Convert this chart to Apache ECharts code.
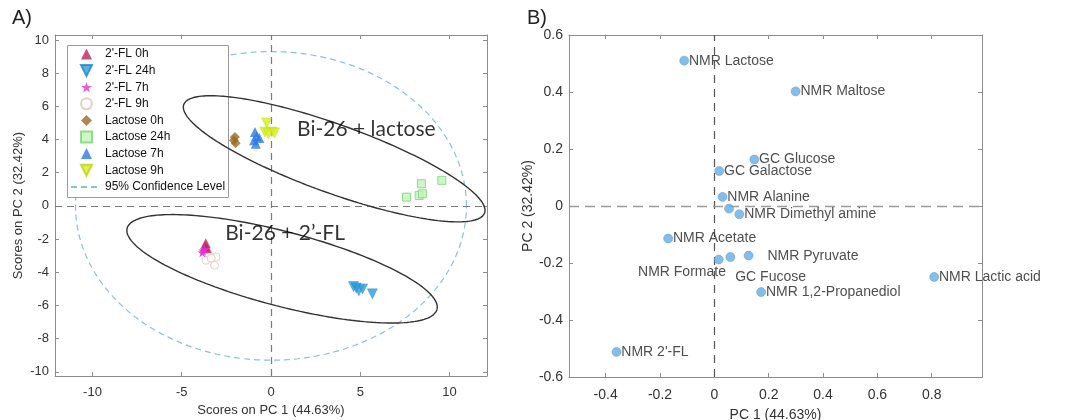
<!DOCTYPE html>
<html>
<head>
<meta charset="utf-8">
<script src="https://cdn.jsdelivr.net/npm/echarts@6/dist/echarts.min.js"></script>
<style>
  html, body { margin: 0; padding: 0; background: #fff; }
  #chart { width: 1067px; height: 420px; }
</style>
</head>
<body>
<div id="chart"></div>
<script>
// ---------- Panel A: PCA scores per sample group ----------
const fl0h   = [[-3.65, -2.25], [-3.70, -2.45], [-3.60, -2.55]];
const fl24h  = [[4.62, -4.86], [4.78, -4.95], [4.92, -5.12], [5.13, -5.00], [5.68, -5.30]];
const fl7h   = [[-3.80, -2.70], [-3.72, -2.60], [-3.85, -2.80]];
const fl9h   = [[-3.51, -2.88], [-3.08, -3.08], [-3.64, -3.28], [-3.16, -3.58], [-3.35, -3.15]];
const lac0h  = [[-2.02, 4.15], [-2.08, 3.95], [-1.98, 3.78]];
const lac24h = [[7.59, 0.53], [8.43, 1.34], [8.30, 0.63], [8.48, 0.73], [9.57, 1.54]];
const lac7h  = [[-0.90, 4.45], [-0.80, 4.20], [-0.95, 3.95], [-0.85, 3.75], [-0.65, 4.10]];
const lac9h  = [[-0.25, 5.00], [-0.35, 4.45], [0.05, 4.45], [-0.15, 4.35], [0.20, 4.40]];

const sampleGroups = ['2\'-FL 0h', '2\'-FL 24h', '2\'-FL 7h', '2\'-FL 9h', 'Lactose 0h', 'Lactose 24h', 'Lactose 7h', 'Lactose 9h'];
const confidenceName = '95% Confidence Level';

// Group ellipses and the 95% confidence ellipse (centre, semi-axes, rotation in degrees)
const lactoseEllipse = { cx: 3.54, cy: 2.84, a: 9.04, b: 2.04, angle: -21.35 };
const flEllipse      = { cx: 0.62, cy: -3.79, a: 9.02, b: 2.23, angle: -15.87 };
const confEllipse    = { cx: 0, cy: 0, a: 10.95, b: 9.3, angle: 0 };

const groupLabels   = ['Bi-26 + lactose', 'Bi-26 + 2\u2019-FL'];
const groupLabelAt  = [[5.34, 4.6], [0.79, -1.67]];

const scoreXTicks = [-10, -5, 0, 5, 10];
const scoreYTicks = [-10, -8, -6, -4, -2, 0, 2, 4, 6, 8, 10];

// ---------- Panel B: loadings ----------
const loadingNames = ['NMR Lactose', 'NMR Maltose', 'GC Glucose', 'GC Galactose', 'NMR Alanine', '',
  'NMR Dimethyl amine', 'NMR Acetate', 'NMR Formate', 'GC Fucose', 'NMR Pyruvate',
  'NMR Lactic acid', 'NMR 1,2-Propanediol', "NMR 2'-FL"];
const loadingPC1 = [-0.111, 0.299, 0.147, 0.018, 0.030, 0.054, 0.092, -0.170, 0.016, 0.059, 0.126, 0.809, 0.172, -0.360];
const loadingPC2 = [0.510, 0.402, 0.163, 0.123, 0.032, -0.009, -0.029, -0.114, -0.188, -0.179, -0.174, -0.249, -0.302, -0.512];
const loadingXTicks = [-0.4, -0.2, 0, 0.2, 0.4, 0.6, 0.8];
const loadingYTicks = [-0.6, -0.4, -0.2, 0, 0.2, 0.4, 0.6];

// label placement tweaks for crowded loadings
const labelTweaks = {
  'NMR Formate': { position: 'left', distance: 0, offset: [12, 13] },
  'GC Fucose': { position: 'right', distance: 0, offset: [0, 20] },
  'NMR Pyruvate': { position: 'right', distance: 14, offset: [0, 1] }
};

function ellipsePoints(e, n) {
  const th = e.angle * Math.PI / 180, c = Math.cos(th), s = Math.sin(th);
  const pts = [];
  for (let i = 0; i <= n; i++) {
    const t = 2 * Math.PI * i / n;
    const u = e.a * Math.cos(t), v = e.b * Math.sin(t);
    pts.push([e.cx + u * c - v * s, e.cy + u * s + v * c]);
  }
  return pts;
}

const FONT = 'Arial, "Liberation Sans", sans-serif';
const starPath = 'path://M50,0 L61,35 L98,35 L68,57 L79,91 L50,70 L21,91 L32,57 L2,35 L39,35 Z';
const downTriangle = 'path://M0,0 L10,0 L5,10 Z';

function frameAxis(gridIndex, position, min, max, ticks, extra) {
  return Object.assign({
    type: 'value', gridIndex, position, min, max,
    axisLine: { show: true, onZero: false, lineStyle: { color: '#8c8c8c', width: 1 } },
    axisTick: { show: true, inside: true, length: 4, customValues: ticks, lineStyle: { color: '#8c8c8c' } },
    axisLabel: { show: false },
    splitLine: { show: false }
  }, extra || {});
}

const chart = echarts.init(document.getElementById('chart'), null, { renderer: 'canvas' });

const scoreSeries = (name, data, symbol, size, style) => ({
  name, type: 'scatter', xAxisIndex: 0, yAxisIndex: 0, data, symbol, symbolSize: size,
  itemStyle: style, z: 6
});

const loadingData = loadingNames.map((n, i) => {
  const item = { name: n, value: [loadingPC1[i], loadingPC2[i]] };
  if (labelTweaks[n]) item.label = labelTweaks[n];
  return item;
});

const legendText = { fontSize: 12, color: '#111', fontFamily: FONT, lineHeight: 14 };

const option = {
  animation: false,
  backgroundColor: '#fff',
  textStyle: { fontFamily: FONT },
  grid: [
    { left: 55, top: 35, width: 432, height: 341, show: false, outerBoundsMode: 'none', containLabel: false },
    { left: 569, top: 35, width: 413, height: 342, show: false, outerBoundsMode: 'none', containLabel: false }
  ],
  graphic: [
    { type: 'text', left: 12, top: 8, style: { text: 'A)', font: '20px ' + FONT, fill: '#222' } },
    { type: 'text', left: 527, top: 8, style: { text: 'B)', font: '20px ' + FONT, fill: '#222' } },
    // legend frame: above the confidence ellipse, below the group ellipses
    {
      type: 'rect', z: 3, silent: true,
      shape: { x: 67.5, y: 45.5, width: 161, height: 152 },
      style: { fill: '#fff', stroke: '#9a9a9a', lineWidth: 1 }
    }
  ],
  legend: [
    {
      data: sampleGroups, orient: 'vertical', left: 80, top: 47, padding: 0,
      itemWidth: 11, itemHeight: 11, itemGap: 2.6, selectedMode: false, z: 4,
      textStyle: Object.assign({ padding: [0, 0, 0, 8] }, legendText)
    },
    {
      data: [{ name: confidenceName, itemStyle: { opacity: 0 } }],
      orient: 'vertical', left: 70, top: 180, padding: 0,
      itemWidth: 30, itemHeight: 11, selectedMode: false, z: 4,
      textStyle: Object.assign({ padding: [0, 0, 0, -1] }, legendText)
    }
  ],
  xAxis: [
    frameAxis(0, 'bottom', -12.1, 12.1, scoreXTicks, {
      axisLabel: { show: true, customValues: scoreXTicks, fontSize: 13, color: '#333', margin: 10 },
      name: 'Scores on PC 1 (44.63%)', nameLocation: 'middle', nameGap: 28,
      nameTextStyle: { fontSize: 13, color: '#333' }
    }),
    frameAxis(0, 'top', -12.1, 12.1, scoreXTicks),
    frameAxis(1, 'bottom', -0.535, 0.985, loadingXTicks, {
      axisLabel: { show: true, customValues: loadingXTicks, fontSize: 14, color: '#333', margin: 11 },
      name: 'PC 1 (44.63%)', nameLocation: 'middle', nameGap: 31,
      nameTextStyle: { fontSize: 14, color: '#333' }
    }),
    frameAxis(1, 'top', -0.535, 0.985, loadingXTicks)
  ],
  yAxis: [
    frameAxis(0, 'left', -10.25, 10.3, scoreYTicks, {
      axisLabel: { show: true, customValues: scoreYTicks, fontSize: 13, color: '#333', margin: 6 },
      name: 'Scores on PC 2 (32.42%)', nameLocation: 'middle', nameGap: 30,
      nameTextStyle: { fontSize: 13, color: '#333' }
    }),
    frameAxis(0, 'right', -10.25, 10.3, scoreYTicks),
    frameAxis(1, 'left', -0.6, 0.6, loadingYTicks, {
      axisLabel: { show: true, customValues: loadingYTicks, fontSize: 14, color: '#333', margin: 6 },
      name: 'PC 2 (32.42%)', nameLocation: 'middle', nameGap: 34,
      nameTextStyle: { fontSize: 14, color: '#333' }
    }),
    frameAxis(1, 'right', -0.6, 0.6, loadingYTicks)
  ],
  series: [
    // zero lines and confidence ellipse (panel A), kept beneath the legend frame
    {
      name: confidenceName, type: 'line', xAxisIndex: 0, yAxisIndex: 0,
      data: ellipsePoints(confEllipse, 180), showSymbol: false, symbol: 'none', clip: false,
      lineStyle: { color: '#8dbfdc', width: 1.2, type: [6, 4] }, z: 2,
      markLine: {
        silent: true, symbol: 'none', label: { show: false },
        lineStyle: { color: '#7a7a7a', width: 1.2, type: [7, 5] },
        data: [{ xAxis: 0 }, { yAxis: 0 }]
      }
    },
    // group ellipses sit above the legend frame
    {
      name: 'lactose group', type: 'line', xAxisIndex: 0, yAxisIndex: 0,
      data: ellipsePoints(lactoseEllipse, 200), showSymbol: false, symbol: 'none', clip: false,
      lineStyle: { color: '#333', width: 1.4 }, z: 5
    },
    {
      name: '2\'-FL group', type: 'line', xAxisIndex: 0, yAxisIndex: 0,
      data: ellipsePoints(flEllipse, 200), showSymbol: false, symbol: 'none', clip: false,
      lineStyle: { color: '#333', width: 1.4 }, z: 5
    },
    scoreSeries(sampleGroups[3], fl9h, 'circle', 8, { color: '#fff', borderColor: '#e2c4b6', borderWidth: 1 }),
    scoreSeries(sampleGroups[0], fl0h, 'triangle', 10, { color: '#b8255c' }),
    scoreSeries(sampleGroups[2], fl7h, starPath, 10, { color: '#e52fd4' }),
    scoreSeries(sampleGroups[1], fl24h, downTriangle, 10, { color: '#2b9ddb', borderColor: '#1f86c2', borderWidth: 0.5 }),
    scoreSeries(sampleGroups[4], lac0h, 'diamond', 10, { color: '#9a6a24' }),
    scoreSeries(sampleGroups[5], lac24h, 'rect', 8, { color: '#c6f3bd', borderColor: '#74d96f', borderWidth: 1 }),
    scoreSeries(sampleGroups[6], lac7h, 'triangle', 10, { color: '#2d7be0' }),
    scoreSeries(sampleGroups[7], lac9h, downTriangle, 10, { color: '#d6ef1e', borderColor: '#b9d412', borderWidth: 0.5 }),
    {
      name: 'group labels', type: 'scatter', xAxisIndex: 0, yAxisIndex: 0,
      data: groupLabels.map((t, i) => ({ name: t, value: groupLabelAt[i] })),
      symbolSize: 0, silent: true, z: 7,
      label: {
        show: true, position: 'inside', formatter: p => p.name,
        fontFamily: 'Lato, "Open Sans", sans-serif', fontSize: 21, color: '#000'
      }
    },
    // panel B loadings
    {
      name: 'loadings', type: 'scatter', xAxisIndex: 2, yAxisIndex: 2,
      data: loadingData, symbol: 'circle', symbolSize: 9,
      itemStyle: { color: '#68ade2', borderColor: '#4f97cf', borderWidth: 0.6 },
      label: {
        show: true, position: 'right', distance: 0, formatter: p => p.name,
        fontSize: 14, color: '#222', fontFamily: FONT
      },
      z: 5,
      markLine: {
        silent: true, symbol: 'none', label: { show: false },
        data: [
          { xAxis: 0, lineStyle: { color: '#555', width: 1.2, type: [8, 6] } },
          { yAxis: 0, lineStyle: { color: '#9a9a9a', width: 1.3, type: [10, 6] } }
        ]
      }
    }
  ]
};

chart.setOption(option);
</script>
</body>
</html>
